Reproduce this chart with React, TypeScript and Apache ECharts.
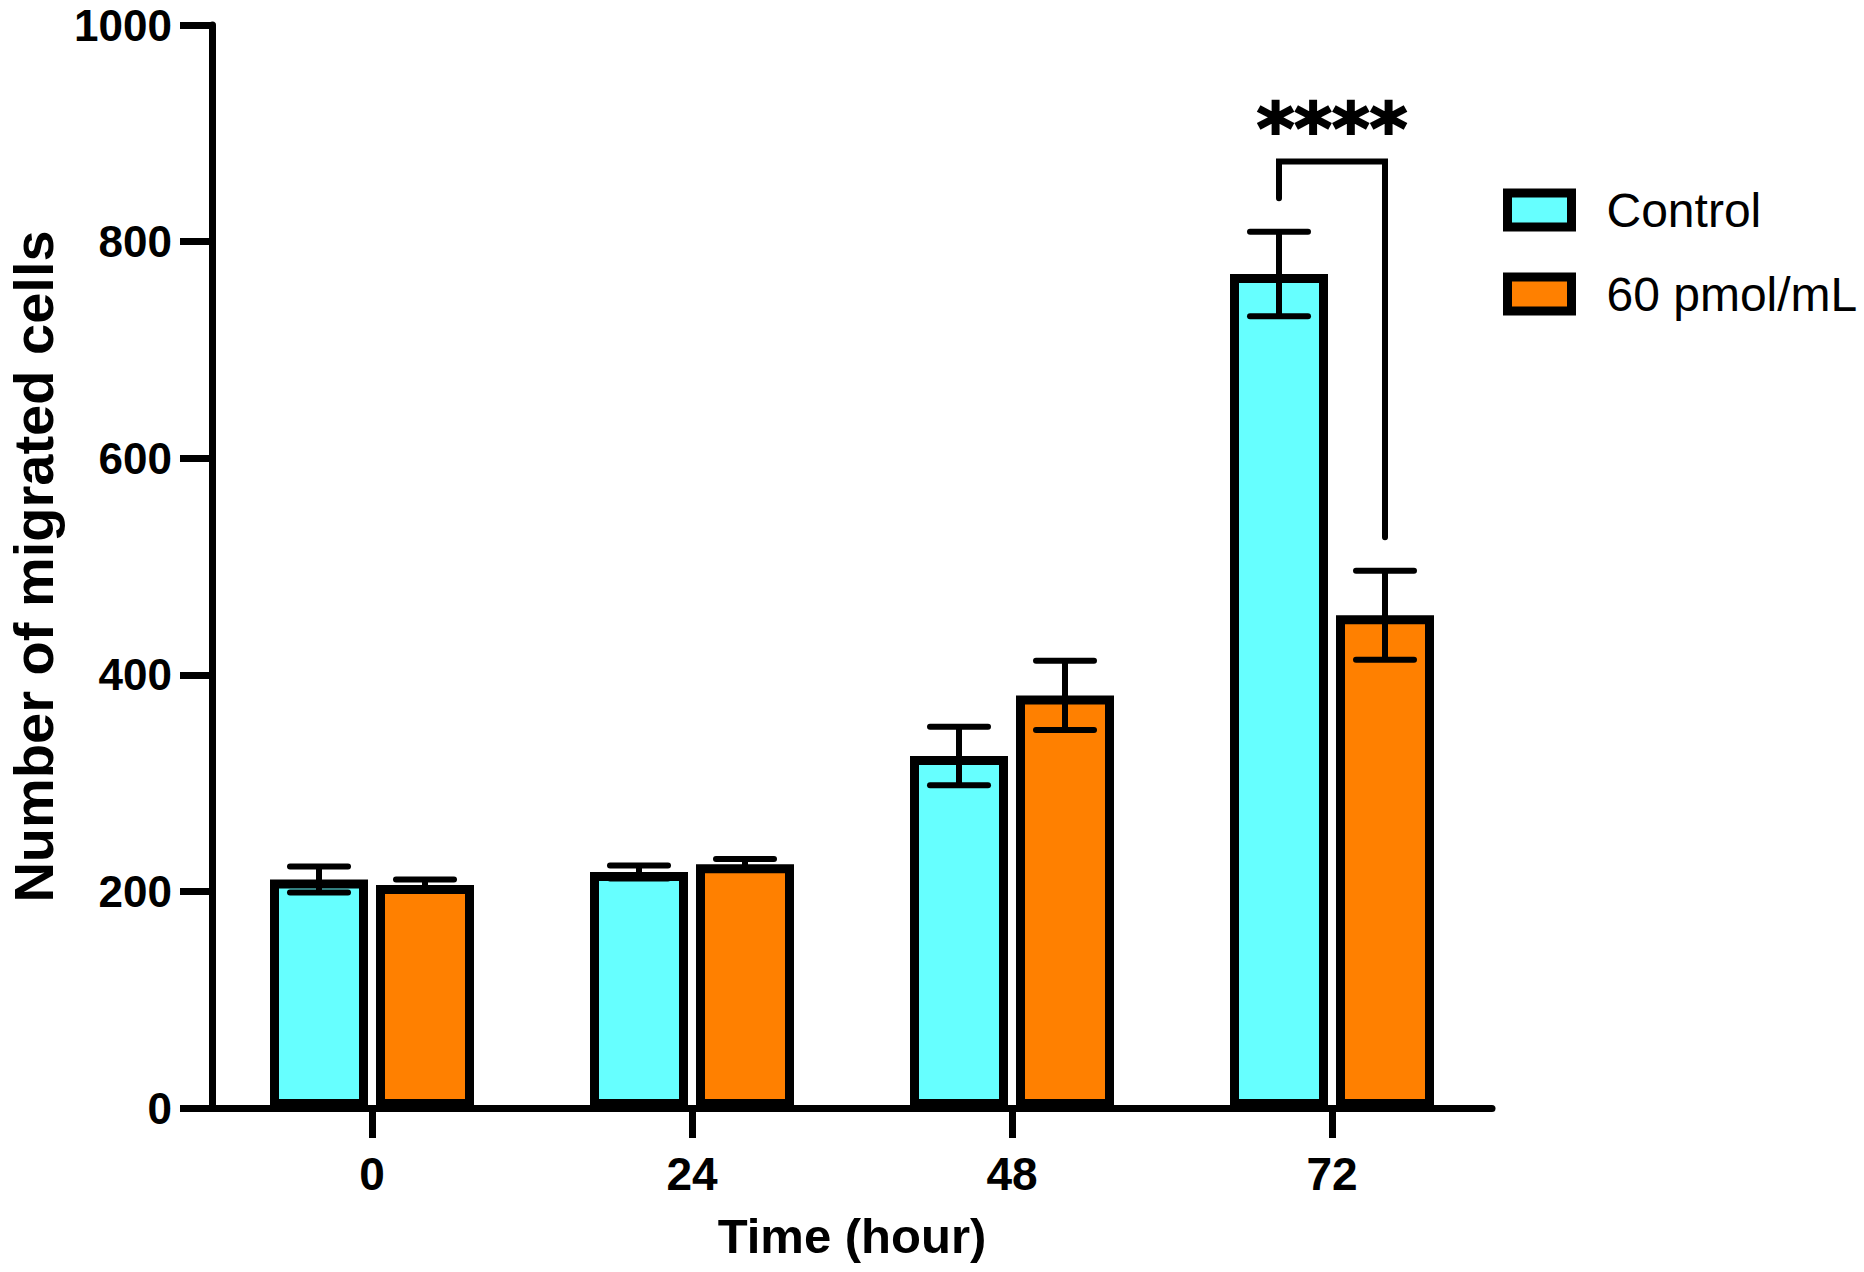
import React, { useEffect, useRef } from "react";
import * as echarts from "echarts";

const categories = ["0", "24", "48", "72"];
const controlMean = [211, 218, 325, 770];
const controlErr = [12, 6, 27, 39];
const treatedMean = [206, 225, 381, 455];
const treatedErr = [5, 5, 32, 41];
const seriesNames = ["Control", "60 pmol/mL"];
const yTicks = { min: 0, max: 1000, interval: 200 };
// significance bracket: [category index, left leg end, bracket top, right leg end]
const sigBracket = [3, 840, 874, 527];
const sigLabel = "****";

const FONT = "'Liberation Sans', Arial, Helvetica, sans-serif";
const BAR_W = 98;
const GAP = 8;
const OFF = (BAR_W + GAP) / 2;

export default function App() {
  const ref = useRef<HTMLDivElement>(null);
  useEffect(() => {
    if (!ref.current) return;
    const chart = echarts.init(ref.current, null, { renderer: "svg" });

    const errRender = (offset: number) => (params: any, api: any) => {
      const x = api.value(0);
      const m = api.value(1);
      const e = api.value(2);
      const top = api.coord([x, m + e]);
      const bot = api.coord([x, m - e]);
      const cx = top[0] + offset;
      const half = 29;
      const st = { stroke: "#000", lineWidth: 6, lineCap: "round" };
      return {
        type: "group",
        children: [
          { type: "line", shape: { x1: cx, y1: top[1], x2: cx, y2: bot[1] }, style: { stroke: "#000", lineWidth: 6 } },
          { type: "line", shape: { x1: cx - half, y1: top[1], x2: cx + half, y2: top[1] }, style: st },
          { type: "line", shape: { x1: cx - half, y1: bot[1], x2: cx + half, y2: bot[1] }, style: st },
        ],
      };
    };

    const option: any = {
      animation: false,
      backgroundColor: "#fff",
      grid: { left: 212, right: 372, top: 25, bottom: 164, containLabel: false, outerBoundsMode: "none" },
      legend: {
        data: seriesNames,
        orient: "vertical",
        left: 1498,
        top: 181,
        icon: "rect",
        itemWidth: 64,
        itemHeight: 34,
        itemGap: 36,
        itemStyle: { borderColor: "#000", borderWidth: 9 },
        textStyle: { fontSize: 48, fontFamily: FONT, color: "#000", padding: [0, 0, 0, 30] },
      },
      xAxis: {
        type: "category",
        data: categories,
        name: "Time (hour)",
        nameLocation: "middle",
        nameGap: 103,
        nameTextStyle: { fontSize: 49, fontWeight: "bold", fontFamily: FONT, color: "#000" },
        axisLine: { show: true, lineStyle: { color: "#000", width: 7 } },
        axisTick: { show: true, alignWithLabel: true, length: 30, lineStyle: { color: "#000", width: 7 } },
        axisLabel: { fontSize: 46, fontWeight: "bold", fontFamily: FONT, color: "#000", margin: 43 },
      },
      yAxis: {
        type: "value",
        min: yTicks.min,
        max: yTicks.max,
        interval: yTicks.interval,
        name: "Number of migrated cells",
        nameLocation: "middle",
        nameGap: 156,
        nameTextStyle: { fontSize: 56, lineHeight: 46, fontWeight: "bold", fontFamily: FONT, color: "#000" },
        axisLine: { show: true, lineStyle: { color: "#000", width: 7 } },
        axisTick: { show: true, length: 32, lineStyle: { color: "#000", width: 7 } },
        axisLabel: {
          fontSize: 44,
          lineHeight: 36,
          fontWeight: "bold",
          fontFamily: FONT,
          color: "#000",
          margin: 40,
          formatter: (v: number) => String(v),
        },
        splitLine: { show: false },
      },
      series: [
        {
          name: seriesNames[0],
          type: "bar",
          data: controlMean,
          barWidth: BAR_W,
          barGap: `${(GAP / BAR_W) * 100}%`,
          itemStyle: { color: "#66FFFF", borderColor: "#000", borderWidth: 9 },
        },
        {
          name: seriesNames[1],
          type: "bar",
          data: treatedMean,
          barWidth: BAR_W,
          barGap: `${(GAP / BAR_W) * 100}%`,
          itemStyle: { color: "#FF8000", borderColor: "#000", borderWidth: 9 },
        },
        {
          type: "custom",
          z: 5,
          renderItem: errRender(-OFF),
          data: controlMean.map((m, i) => [i, m, controlErr[i]]),
        },
        {
          type: "custom",
          z: 5,
          renderItem: errRender(OFF),
          data: treatedMean.map((m, i) => [i, m, treatedErr[i]]),
        },
        {
          type: "custom",
          z: 6,
          clip: false,
          data: [sigBracket],
          renderItem: (params: any, api: any) => {
            const x = api.value(0);
            const pL = api.coord([x, api.value(1)]);
            const pT = api.coord([x, api.value(2)]);
            const pR = api.coord([x, api.value(3)]);
            const xl = pT[0] - OFF;
            const xr = pT[0] + OFF;
            return {
              type: "group",
              children: [
                {
                  type: "polyline",
                  shape: { points: [[xl, pL[1]], [xl, pT[1]], [xr, pT[1]], [xr, pR[1]]] },
                  style: { stroke: "#000", lineWidth: 6, fill: "none", lineCap: "round", lineJoin: "miter" },
                },
                {
                  type: "text",
                  x: pT[0],
                  y: pT[1] - 32,
                  style: {
                    text: sigLabel,
                    fontSize: 72,
                    fontWeight: "bold",
                    fontFamily: "'DejaVu Sans', sans-serif",
                    fill: "#000",
                    stroke: "#000",
                    lineWidth: 2,
                    align: "center",
                    verticalAlign: "middle",
                  },
                },
              ],
            };
          },
        },
      ],
    };
    chart.setOption(option);
    return () => chart.dispose();
  }, []);
  return (
    <div
      ref={ref}
      style={{ position: "absolute", left: 0, top: 0, width: 1864, height: 1272, background: "#fff" }}
    />
  );
}
